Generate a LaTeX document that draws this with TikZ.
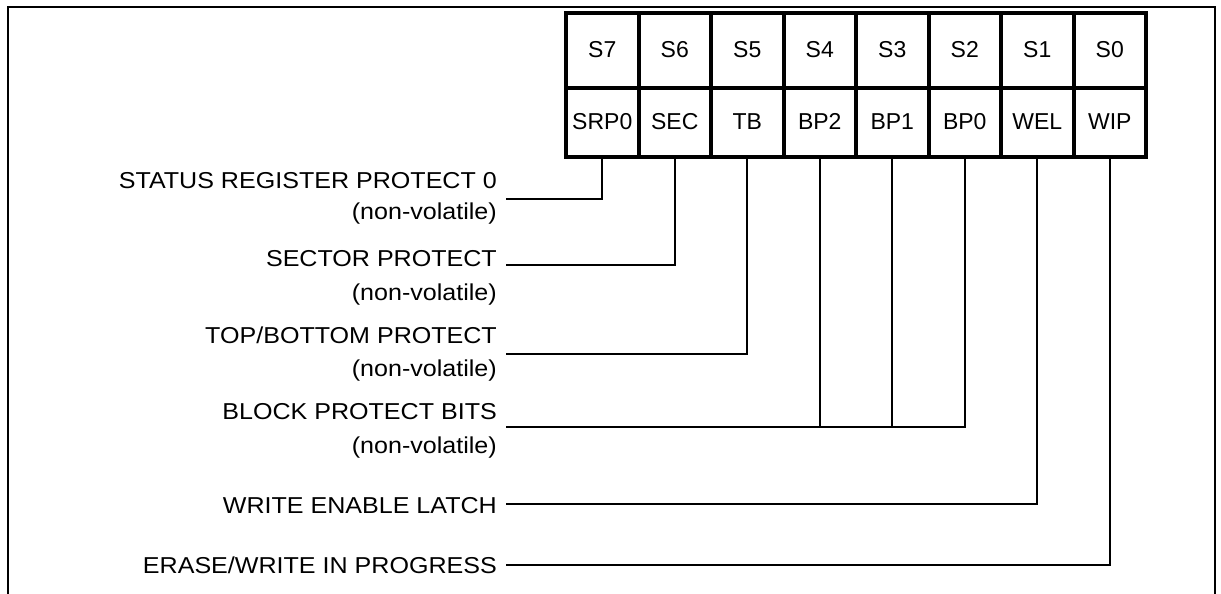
\documentclass[tikz,border=0pt]{standalone}
\usepackage{fontspec}
\setmainfont{Liberation Sans}
\newfontfamily\lblfont[FakeStretch=1.09]{Liberation Sans}
\begin{document}
\begin{tikzpicture}[x=1pt,y=-1pt,
  cell/.style={draw,line width=4pt,minimum width=72.5pt,inner sep=0pt,outer sep=0pt,
    font=\fontsize{23}{27}\selectfont,text height=16.5pt,text depth=1.7pt},
  toprow/.style={cell,minimum height=74.7pt},
  botrow/.style={cell,minimum height=69pt},
  lbl/.style={anchor=base east,inner sep=0pt,font=\lblfont\fontsize{23}{27}\selectfont},
  conn/.style={line width=2pt},
  frame/.style={line width=2pt}]
\useasboundingbox (0,0) rectangle (1221,594);
% outer frame
\draw[frame] (7.5,600) -- (7.5,7) -- (1215,7) -- (1215,600);
% register cells
\foreach \i/\t/\b in {7/S7/SRP0,6/S6/SEC,5/S5/TB,4/S4/BP2,3/S3/BP1,2/S2/BP0,1/S1/WEL,0/S0/WIP}{
  \pgfmathsetmacro{\cx}{566+72.5*(7-\i)+36.25}
  \node[toprow] (s\i) at (\cx,50.35) {\t};
  \node[botrow] (b\i) at (\cx,122.2) {\b};
}
% labels
\node[lbl] (l7a) at (497,188.3) {STATUS REGISTER PROTECT 0};
\node[lbl] (l7b) at (497,219) {(non-volatile)};
\node[lbl] (l6a) at (497,266.7) {SECTOR PROTECT};
\node[lbl] (l6b) at (497,300) {(non-volatile)};
\node[lbl] (l5a) at (497,343.3) {TOP/BOTTOM PROTECT};
\node[lbl] (l5b) at (497,376.7) {(non-volatile)};
\node[lbl] (l4a) at (497,419.3) {BLOCK PROTECT BITS};
\node[lbl] (l4b) at (497,453) {(non-volatile)};
\node[lbl] (l1a) at (497,513.3) {WRITE ENABLE LATCH};
\node[lbl] (l0a) at (497,573.3) {ERASE/WRITE IN PROGRESS};
% connectors
\coordinate (c7) at (506,199);
\coordinate (c6) at (506,265);
\coordinate (c5) at (506,354);
\coordinate (c4) at (506,427);
\coordinate (c1) at (506,504);
\coordinate (c0) at (506,565);
\draw[conn] (c7) -| (b7.south);
\draw[conn] (c6) -| (b6.south);
\draw[conn] (c5) -| (b5.south);
\draw[conn] (c4) -| (b2.south);
\draw[conn] (b4.south) -- (b4.south |- c4);
\draw[conn] (b3.south) -- (b3.south |- c4);
\draw[conn] (c1) -| (b1.south);
\draw[conn] (c0) -| (b0.south);
\end{tikzpicture}
\end{document}
